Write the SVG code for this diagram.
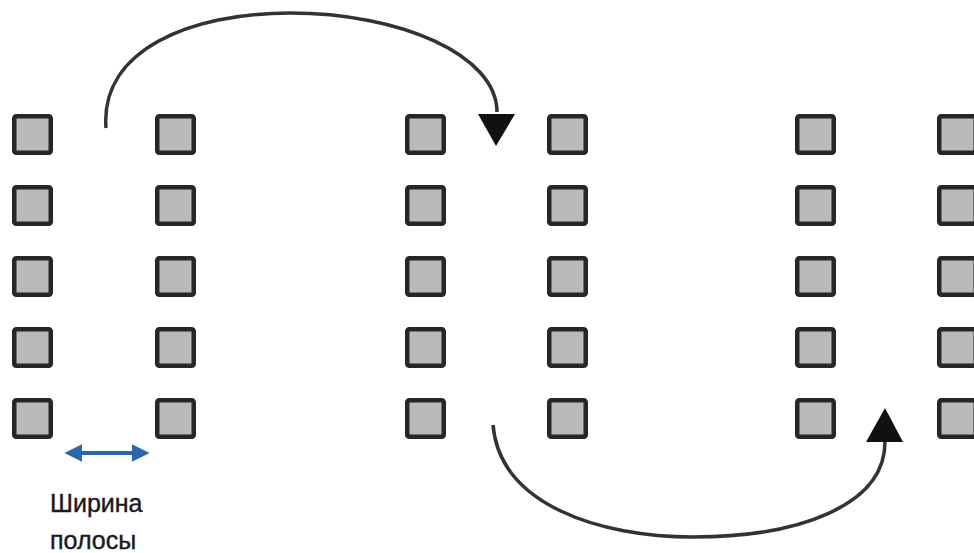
<svg xmlns="http://www.w3.org/2000/svg" width="974" height="553" viewBox="0 0 974 553">
<defs>
<style>
.sq{fill:#bababa;stroke:#262626;stroke-width:4.5}
.arc{fill:none;stroke:#333;stroke-width:3.5}
.lbl{font-family:"Liberation Sans",Arial,sans-serif;font-size:25px;fill:#1a1a1a;stroke:#1a1a1a;stroke-width:0.4}
</style>
<marker id="bh" viewBox="0 0 10 10" refX="8" refY="5" markerWidth="4.5" markerHeight="4.5" orient="auto-start-reverse">
<path d="M0,0 L10,5 L0,10 Z" fill="#2a68ad"/>
</marker>
<symbol id="s" viewBox="0 0 41 41"><rect class="sq" x="2.25" y="2.25" width="36.5" height="36.5" rx="2"/></symbol>
</defs>
<rect width="974" height="553" fill="#fff"/>
<g id="col1">
<use href="#s" x="12" y="114" width="41" height="41"/>
<use href="#s" x="12" y="185" width="41" height="41"/>
<use href="#s" x="12" y="256" width="41" height="41"/>
<use href="#s" x="12" y="327" width="41" height="41"/>
<use href="#s" x="12" y="398" width="41" height="41"/>
</g>
<g id="col2">
<use href="#s" x="155" y="114" width="41" height="41"/>
<use href="#s" x="155" y="185" width="41" height="41"/>
<use href="#s" x="155" y="256" width="41" height="41"/>
<use href="#s" x="155" y="327" width="41" height="41"/>
<use href="#s" x="155" y="398" width="41" height="41"/>
</g>
<g id="col3">
<use href="#s" x="405" y="114" width="41" height="41"/>
<use href="#s" x="405" y="185" width="41" height="41"/>
<use href="#s" x="405" y="256" width="41" height="41"/>
<use href="#s" x="405" y="327" width="41" height="41"/>
<use href="#s" x="405" y="398" width="41" height="41"/>
</g>
<g id="col4">
<use href="#s" x="547" y="114" width="41" height="41"/>
<use href="#s" x="547" y="185" width="41" height="41"/>
<use href="#s" x="547" y="256" width="41" height="41"/>
<use href="#s" x="547" y="327" width="41" height="41"/>
<use href="#s" x="547" y="398" width="41" height="41"/>
</g>
<g id="col5">
<use href="#s" x="795" y="114" width="41" height="41"/>
<use href="#s" x="795" y="185" width="41" height="41"/>
<use href="#s" x="795" y="256" width="41" height="41"/>
<use href="#s" x="795" y="327" width="41" height="41"/>
<use href="#s" x="795" y="398" width="41" height="41"/>
</g>
<g id="col6">
<use href="#s" x="937" y="114" width="41" height="41"/>
<use href="#s" x="937" y="185" width="41" height="41"/>
<use href="#s" x="937" y="256" width="41" height="41"/>
<use href="#s" x="937" y="327" width="41" height="41"/>
<use href="#s" x="937" y="398" width="41" height="41"/>
</g>
<g id="connectors">
<path class="arc" d="M106,128 C100,50 190,13 290,13 C400,13 497,55 497,112"/>
<path d="M478,114 L515,114 L496,146 Z" fill="#111"/>
<path class="arc" d="M493,425 C500,505 600,537 693,537 C800,537 885,505 885,442"/>
<path d="M866,442 L903,442 L885,408 Z" fill="#111"/>
<line x1="68" y1="453" x2="146" y2="453" stroke="#2a68ad" stroke-width="4" marker-start="url(#bh)" marker-end="url(#bh)"/>
</g>
<g id="label">
<text class="lbl" x="50" y="512">Ширина</text>
<text class="lbl" x="50" y="549">полосы</text>
</g>
</svg>
